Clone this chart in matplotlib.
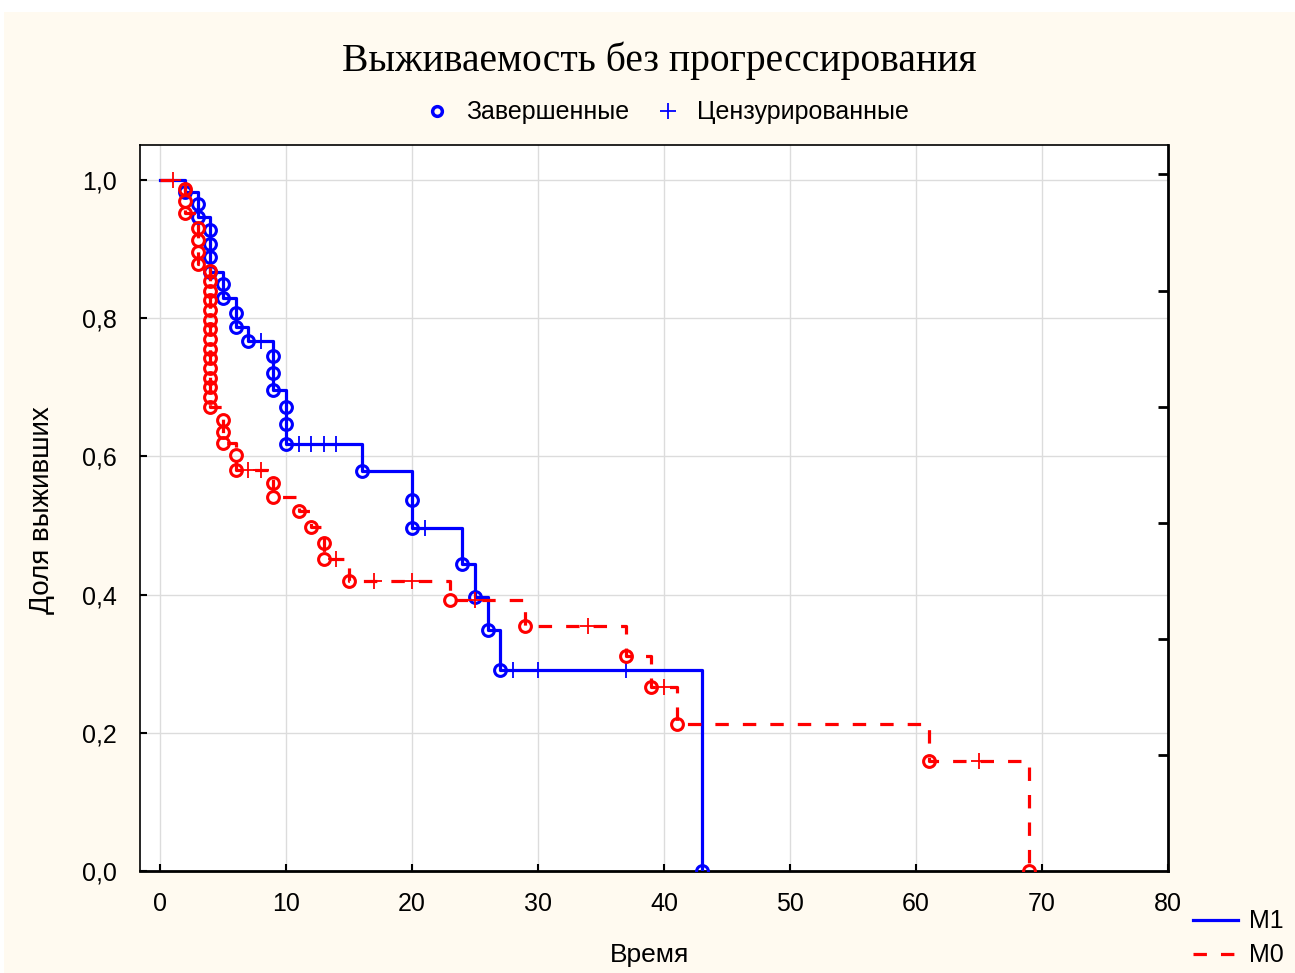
import matplotlib.pyplot as plt
from matplotlib.lines import Line2D
from matplotlib.patches import Rectangle

# Группа M1: моменты событий и доля выживших после каждого события
m1_event_t = [2, 3, 3, 4, 4, 4, 4, 5, 5, 6, 6, 7, 9, 9, 9, 10, 10, 10,
              16, 20, 20, 24, 25, 26, 27, 43]
m1_event_s = [0.982, 0.965, 0.947, 0.928, 0.908, 0.888, 0.867, 0.849, 0.829,
              0.808, 0.787, 0.767, 0.745, 0.721, 0.696, 0.671, 0.647, 0.618,
              0.579, 0.537, 0.496, 0.445, 0.397, 0.349, 0.291, 0.0]
# Цензурированные наблюдения M1
m1_cens_t = [8, 11, 12, 13, 14, 21, 28, 30, 37]
m1_cens_s = [0.767, 0.618, 0.618, 0.618, 0.618, 0.496, 0.291, 0.291, 0.291]

# Группа M0
m0_event_t = [2, 2, 2, 3, 3, 3, 3,
              4, 4, 4, 4, 4, 4, 4, 4, 4, 4, 4, 4, 4, 4, 4,
              5, 5, 5, 6, 6, 9, 9, 11, 12, 13, 13, 15, 23, 29, 37, 39, 41, 61, 69]
m0_event_s = [0.987, 0.969, 0.952, 0.931, 0.913, 0.896, 0.878,
              0.868, 0.854, 0.840, 0.826, 0.812, 0.798, 0.784, 0.770, 0.756,
              0.742, 0.728, 0.714, 0.700, 0.686, 0.672,
              0.653, 0.636, 0.619, 0.602, 0.581, 0.561, 0.541, 0.521, 0.498,
              0.475, 0.451, 0.420, 0.392, 0.354, 0.311, 0.267, 0.213, 0.159, 0.0]
m0_cens_t = [1, 7, 8, 14, 17, 20, 25, 34, 40, 65]
m0_cens_s = [1.0, 0.581, 0.581, 0.451, 0.420, 0.420, 0.392, 0.354, 0.267, 0.159]

x_ticks = [0, 10, 20, 30, 40, 50, 60, 70, 80]
y_ticks = [0.0, 0.2, 0.4, 0.6, 0.8, 1.0]
y_ticklabels = ['0,0', '0,2', '0,4', '0,6', '0,8', '1,0']
right_ticks = [0.168, 0.336, 0.504, 0.672, 0.839, 1.009]

BLUE = '#0000FF'
RED = '#FF0000'
plt.rcParams['font.family'] = ['Liberation Sans', 'DejaVu Sans']

W, H = 1295, 973
fig = plt.figure(figsize=(W / 100, H / 100), dpi=100)
fig.patch.set_facecolor('white')
fig.add_artist(Rectangle((4 / W, 0), 1, (H - 12) / H, transform=fig.transFigure,
                         facecolor='#FFFAF0', edgecolor='none', zorder=-10))

ax = fig.add_axes([140 / W, 102 / H, 1028 / W, 726 / H])
ax.set_facecolor('white')
ax.set_xlim(-1.587, 80)
ax.set_ylim(0, 1.0507)
ax.set_axisbelow(True)
ax.grid(color='#dcdcdc', lw=1)

# кривые Каплана-Мейера (ступенчатые)
ax.step([0] + m1_event_t, [1.0] + m1_event_s, where='post', color=BLUE, lw=2.3, zorder=3)
ax.plot(m1_event_t, m1_event_s, 'o', ms=8.5, mfc='none', mec=BLUE, mew=2.2, zorder=4)
ax.plot(m1_cens_t, m1_cens_s, '+', ms=12, mec=BLUE, mew=1.3, zorder=4)

ax.step([0] + m0_event_t, [1.0] + m0_event_s, where='post', color=RED, lw=2.3,
        ls=(0, (4.2, 4.4)), zorder=5)
ax.plot(m0_event_t, m0_event_s, 'o', ms=8.5, mfc='none', mec=RED, mew=2.2, zorder=6)
ax.plot(m0_cens_t, m0_cens_s, '+', ms=12, mec=RED, mew=1.3, zorder=6)

ax.set_xticks(x_ticks)
ax.set_yticks(y_ticks)
ax.set_yticklabels(y_ticklabels)
ax.tick_params(axis='both', direction='in', length=5, width=1.5, labelsize=18)
ax.tick_params(axis='x', pad=15)
ax.tick_params(axis='y', pad=17)

for side in ['left', 'top']:
    ax.spines[side].set_linewidth(1.2)
for side in ['bottom', 'right']:
    ax.spines[side].set_linewidth(2.0)

ax2 = ax.twinx()
ax2.set_ylim(ax.get_ylim())
ax2.set_yticks(right_ticks)
ax2.tick_params(axis='y', direction='in', length=7, width=2, labelright=False)
for s in ax2.spines.values():
    s.set_visible(False)

fig.text(659 / W, 1 - 61 / H, 'Выживаемость без прогрессирования', ha='center',
         va='center', fontsize=28.5, family='Liberation Serif')
fig.text(650 / W, 1 - 955 / H, 'Время', ha='center', va='center', fontsize=19)
fig.text(42 / W, 1 - 510 / H, 'Доля выживших', ha='center', va='center',
         fontsize=20, rotation=90)

top_handles = [Line2D([], [], ls='none', marker='o', ms=7, mfc='none', mec=BLUE, mew=2.5),
               Line2D([], [], ls='none', marker='+', ms=11, mec=BLUE, mew=1.3)]
fig.legend(top_handles, ['Завершенные', 'Цензурированные'], loc='upper left',
           bbox_to_anchor=(410 / W, 1 - 88 / H), ncol=2, frameon=False, fontsize=18,
           borderpad=0, handlelength=1.2, handletextpad=0.55, columnspacing=0.95)

grp_handles = [Line2D([], [], color=BLUE, lw=2.3),
               Line2D([], [], color=RED, lw=2.3, ls=(0, (4.2, 4.4)))]
fig.legend(grp_handles, ['M1', 'M0'], loc='upper left',
           bbox_to_anchor=(1180 / W, 1 - 897 / H), frameon=False, fontsize=18,
           borderpad=0, handlelength=1.8, handletextpad=0.45, labelspacing=0.4)

fig.savefig('out.png', dpi=100)
